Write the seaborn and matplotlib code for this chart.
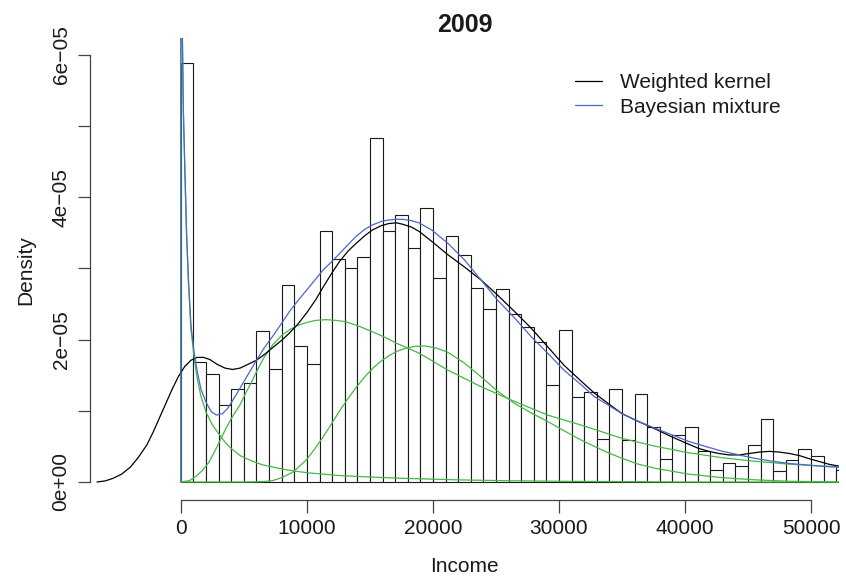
import numpy as np
import pandas as pd
import matplotlib
matplotlib.use("Agg")
import matplotlib.pyplot as plt
from matplotlib.lines import Line2D
import seaborn as sns

# ---------------- data (density in units of 1e-5) ----------------
bin_width = 1000
bar_density = [5.88, 1.68, 1.52, 1.08, 1.31, 1.39, 2.12, 1.59, 2.76, 1.91,
               1.66, 3.53, 3.13, 3.00, 3.16, 4.83, 3.53, 3.75, 3.29, 3.85,
               2.86, 3.45, 3.19, 2.73, 2.43, 2.71, 2.36, 2.17, 1.96, 1.36,
               2.13, 1.19, 1.26, 0.61, 1.30, 0.59, 1.23, 0.77, 0.32, 0.66,
               0.77, 0.44, 0.17, 0.26, 0.23, 0.52, 0.89, 0.16, 0.31, 0.46,
               0.37, 0.23, 0.17]

kernel_x = [-6650, -6000, -5400, -4700, -4000, -3400, -2700, -2200, -1700, -1200,
            -700, -200, 300, 800, 1300, 1800, 2300, 2900, 3500, 4100,
            4700, 5300, 6000, 6700, 7300, 8000, 8600, 9300, 10000, 10700,
            11300, 12000, 12600, 13300, 13900, 14600, 15200, 15900, 16500, 17100,
            17600, 18300, 18900, 19900, 21200, 22500, 23800, 25100, 26500, 27800,
            29100, 30400, 31800, 32800, 34000, 35000, 36300, 37700, 39000, 40300,
            41100, 41900, 42700, 43500, 44300, 45100, 45900, 46700, 47500, 48300,
            49100, 49800, 50600, 51400, 52300]
kernel_y = [0.00, 0.015, 0.05, 0.11, 0.21, 0.34, 0.52, 0.70, 0.90, 1.10,
            1.30, 1.48, 1.62, 1.71, 1.75, 1.75, 1.72, 1.65, 1.60, 1.58,
            1.60, 1.65, 1.71, 1.80, 1.89, 1.99, 2.09, 2.22, 2.38, 2.56,
            2.74, 2.94, 3.10, 3.25, 3.35, 3.46, 3.54, 3.60, 3.63, 3.64,
            3.62, 3.58, 3.52, 3.38, 3.19, 3.02, 2.84, 2.63, 2.39, 2.16,
            1.90, 1.64, 1.41, 1.25, 1.09, 0.96, 0.85, 0.74, 0.63, 0.53,
            0.47, 0.43, 0.40, 0.38, 0.38, 0.40, 0.42, 0.43, 0.42, 0.40,
            0.37, 0.33, 0.29, 0.25, 0.22]

mix_x = [0, 0, 100, 200, 300, 450, 600, 800, 1050, 1300,
         1600, 2000, 2400, 2800, 3300, 3700, 4200, 4700, 5300, 6000,
         6600, 7300, 8000, 8600, 9300, 10000, 10700, 11300, 12000, 12600,
         13300, 13900, 14600, 15200, 15900, 16500, 17100, 17600, 18300, 18900,
         19900, 21200, 22500, 23800, 25100, 26500, 27800, 29100, 30400, 31800,
         32800, 34000, 35000, 36300, 37700, 39000, 40300, 41600, 43000, 44300,
         45600, 47000, 48300, 49600, 50900, 52300]
mix_y = [0.00, 9.00, 6.50, 5.20, 4.50, 3.50, 2.85, 2.20, 1.82, 1.55,
         1.30, 1.12, 0.99, 0.94, 0.96, 1.03, 1.17, 1.32, 1.50, 1.71,
         1.88, 2.05, 2.23, 2.39, 2.55, 2.70, 2.85, 2.98, 3.10, 3.21,
         3.34, 3.45, 3.55, 3.61, 3.66, 3.68, 3.69, 3.69, 3.67, 3.64,
         3.54, 3.35, 3.12, 2.84, 2.56, 2.30, 2.04, 1.81, 1.57, 1.36,
         1.20, 1.07, 0.96, 0.85, 0.75, 0.66, 0.57, 0.50, 0.43, 0.38,
         0.33, 0.29, 0.26, 0.24, 0.22, 0.21]

comp1_x = [0, 0, 100, 200, 300, 450, 600, 800, 1050, 1300,
           1600, 2000, 2500, 3000, 3500, 4000, 4700, 5700, 6500, 7300,
           8400, 10000, 11300, 12600, 15000, 17000, 19000, 22000, 25000, 30000,
           35000, 40000, 52300]
comp1_y = [0.00, 9.00, 6.50, 5.20, 4.50, 3.50, 2.80, 2.15, 1.75, 1.45,
           1.20, 0.98, 0.80, 0.68, 0.56, 0.47, 0.37, 0.29, 0.24, 0.21,
           0.17, 0.13, 0.11, 0.09, 0.07, 0.055, 0.045, 0.03, 0.02, 0.01,
           0.005, 0.00, 0.00]

comp2_x = [0, 700, 1200, 1700, 2240, 2800, 3570, 4100, 4680, 5150,
           5600, 6000, 6600, 7310, 8000, 8640, 9300, 9960, 10700, 11500,
           12300, 13100, 14100, 15200, 16100, 17100, 18900, 21200, 23800, 26500,
           29100, 31750, 32800, 35050, 37700, 40300, 43000, 45600, 48300, 52300]
comp2_y = [0.00, 0.02, 0.08, 0.16, 0.28, 0.47, 0.75, 0.92, 1.08, 1.25,
           1.40, 1.55, 1.75, 1.93, 2.06, 2.14, 2.20, 2.24, 2.27, 2.28,
           2.27, 2.25, 2.19, 2.11, 2.04, 1.95, 1.81, 1.57, 1.34, 1.13,
           0.94, 0.80, 0.74, 0.61, 0.50, 0.41, 0.34, 0.29, 0.25, 0.21]

comp3_x = [0, 5000, 6500, 7300, 8000, 8900, 9960, 10600, 11280, 12000,
           12600, 13250, 13920, 14600, 15240, 15900, 16560, 17200, 17880, 18600,
           19400, 20300, 21200, 22500, 23800, 25100, 26500, 27800, 29100, 30400,
           31750, 32800, 33900, 35050, 36300, 37700, 40300, 43000, 45600, 48300,
           52300]
comp3_y = [0.00, 0.00, 0.005, 0.02, 0.06, 0.14, 0.31, 0.46, 0.63, 0.83,
           1.00, 1.17, 1.33, 1.48, 1.60, 1.70, 1.78, 1.84, 1.88, 1.905,
           1.91, 1.88, 1.82, 1.67, 1.48, 1.28, 1.10, 0.97, 0.85, 0.72,
           0.59, 0.50, 0.41, 0.33, 0.25, 0.19, 0.11, 0.06, 0.03, 0.01,
           0.00]

x_ticks = [0, 10000, 20000, 30000, 40000, 50000]
y_ticks = [0, 1, 2, 3, 4, 5, 6]
y_tick_labels = ["0e+00", "", "2e\u221205", "", "4e\u221205", "", "6e\u221205"]
legend_labels = ["Weighted kernel", "Bayesian mixture"]
title = "2009"

# ---------------- plot ----------------
sns.set_style("ticks")
plt.rcParams['font.family'] = ['Liberation Sans', 'DejaVu Sans']

W, H = 846, 581
fig = plt.figure(figsize=(W / 100, H / 100), dpi=100)
left, right, top, bottom = 90, 839, 38, 500
ax = fig.add_axes([left / W, 1 - bottom / H, (right - left) / W, (bottom - top) / H])

scale = 1e-5
n = len(bar_density)
centers = np.arange(n) * bin_width + bin_width / 2
hist_df = pd.DataFrame({"income": centers, "w": np.array(bar_density) * scale})
sns.histplot(data=hist_df, x="income", weights="w", binwidth=bin_width,
             binrange=(0, n * bin_width), stat="count",
             color="white", edgecolor="#1a1a1a", linewidth=0.8, alpha=1,
             ax=ax)

green = "#45b845"
blue = "#4a68c8"
for cx, cy in [(comp1_x, comp1_y), (comp2_x, comp2_y), (comp3_x, comp3_y)]:
    sns.lineplot(x=cx, y=np.array(cy) * scale, sort=False, estimator=None,
                 color=green, linewidth=0.9, ax=ax)
sns.lineplot(x=kernel_x, y=np.array(kernel_y) * scale, sort=False, estimator=None,
             color="black", linewidth=0.9, ax=ax)
sns.lineplot(x=mix_x, y=np.array(mix_y) * scale, sort=False, estimator=None,
             color=blue, linewidth=0.9, ax=ax)

ax.set_xlim(-7210, 52220)
ax.set_ylim(-0.253e-5, 6.236e-5)

for s in ["top", "right"]:
    ax.spines[s].set_visible(False)
for s in ["left", "bottom"]:
    ax.spines[s].set_color("#444444")
    ax.spines[s].set_linewidth(0.9)
ax.spines["left"].set_bounds(0, 6e-5)
ax.spines["bottom"].set_bounds(0, 50000)

ax.set_xticks(x_ticks)
ax.set_xticklabels([str(t) for t in x_ticks])
ax.set_yticks(np.array(y_ticks) * scale)
ax.set_yticklabels(y_tick_labels, rotation=90, va="center")
ax.tick_params(axis="both", direction="out", length=9, width=0.9, color="#444444",
               labelsize=15, labelcolor="#1a1a1a", bottom=True, left=True)
ax.tick_params(axis="x", pad=5)
ax.tick_params(axis="y", pad=5)
ax.set_xlabel("")
ax.set_ylabel("")

fig.text((left + right) / 2 / W, 1 - 566 / H, "Income", ha="center", va="center",
         fontsize=15, color="#1a1a1a")
fig.text(26 / W, 1 - 270 / H, "Density", ha="center", va="center", rotation=90,
         fontsize=15, color="#1a1a1a")
fig.text((left + right) / 2 / W, 1 - 25 / H, title, ha="center", va="center",
         fontsize=18, fontweight="bold", color="#1a1a1a")

handles = [Line2D([], [], color="black", linewidth=0.9),
           Line2D([], [], color=blue, linewidth=0.9)]
ax.legend(handles, legend_labels, loc="upper left",
          bbox_to_anchor=(575 / W, 1 - 73 / H), bbox_transform=fig.transFigure,
          frameon=False, fontsize=15, handlelength=1.3, handletextpad=0.85,
          labelspacing=0.27, borderpad=0, borderaxespad=0, labelcolor="#1a1a1a")

fig.savefig("out.png", dpi=100, facecolor="white")
